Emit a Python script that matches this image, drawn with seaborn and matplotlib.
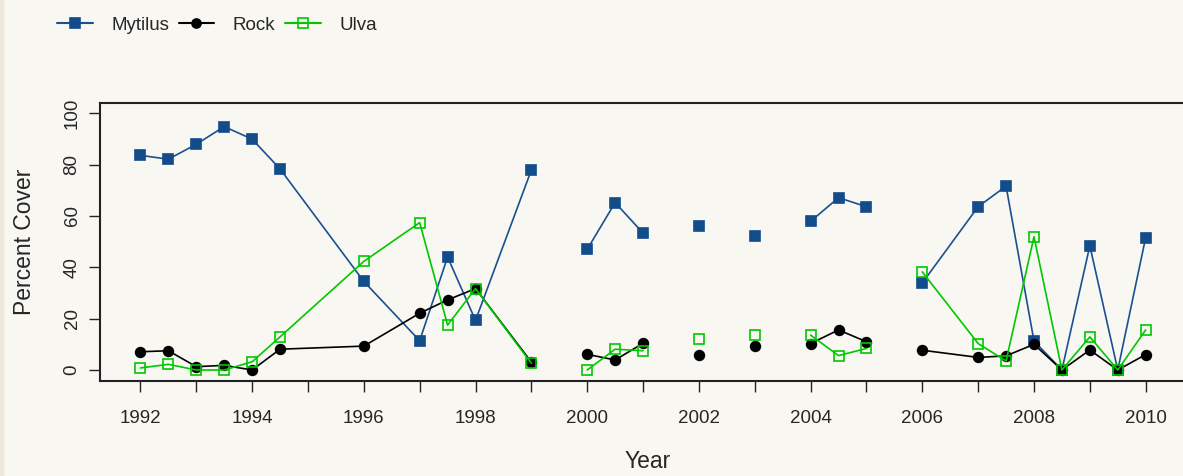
import numpy as np
import pandas as pd
import matplotlib
matplotlib.use("Agg")
import matplotlib.pyplot as plt
from matplotlib.lines import Line2D
import seaborn as sns

nan = np.nan
years = [1992, 1992.5, 1993, 1993.5, 1994, 1994.5, 1996, 1997, 1997.5, 1998, 1999, 1999.5,
         2000, 2000.5, 2001, 2001.5, 2002, 2002.5, 2003, 2003.5, 2004, 2004.5, 2005, 2005.5,
         2006, 2007, 2007.5, 2008, 2008.5, 2009, 2009.5, 2010]
mytilus = [83.6, 82.1, 87.9, 94.8, 89.9, 78.3, 34.5, 11.4, 44.0, 19.3, 77.9, nan,
           47.0, 65.2, 53.3, nan, 56.2, nan, 52.2, nan, 57.9, 67.1, 63.6, nan,
           33.9, 63.6, 71.6, 11.3, 0.0, 48.4, 0.0, 51.6]
rock = [7.1, 7.5, 1.3, 1.8, 0.0, 8.1, 9.3, 22.1, 27.3, 31.7, 3.1, nan,
        6.1, 3.9, 10.4, nan, 5.8, nan, 9.5, nan, 10.3, 15.6, 11.0, nan,
        7.7, 4.9, 5.5, 10.0, 0.0, 7.8, 0.0, 6.0]
ulva = [0.8, 2.2, 0.0, 0.0, 3.2, 12.9, 42.3, 57.4, 17.5, 31.7, 2.6, nan,
        0.0, 8.1, 7.5, nan, 11.9, nan, 13.6, nan, 13.6, 5.6, 8.4, nan,
        38.2, 10.3, 3.5, 51.9, 0.0, 12.9, 0.0, 15.6]
series_names = ["Mytilus", "Rock", "Ulva"]
xtick_labels = [str(y) if y % 2 == 0 else "" for y in range(1992, 2011)]

bg = "#F8F7F2"
colors = {"Mytilus": "#1B5090", "Rock": "#000000", "Ulva": "#00C800"}
markers = {"Mytilus": "s", "Rock": "o", "Ulva": "s"}
mfc = {"Mytilus": "#124C8A", "Rock": "#000000", "Ulva": "none"}

sns.set_style("white")
plt.rcParams["font.family"] = ["Liberation Sans", "DejaVu Sans"]

fig = plt.figure(figsize=(11.83, 4.76), dpi=100, facecolor=bg)
ax = fig.add_axes([100 / 1183, 95.3 / 476, 1 - 100 / 1183 + 0.01, 278 / 476])
ax.set_facecolor(bg)
fig.patches.append(plt.Rectangle((0, 0), 3 / 1183, 1, transform=fig.transFigure,
                                 color="#ECE7DA", zorder=0))

for name, vals in zip(series_names, [mytilus, rock, ulva]):
    v = np.array(vals, dtype=float)
    seg = np.cumsum(np.isnan(v))
    df = pd.DataFrame({"Year": years, "Cover": v, "seg": seg}).dropna()
    sns.lineplot(data=df, x="Year", y="Cover", units="seg", estimator=None,
                 color=colors[name], marker=markers[name], markersize=6.5 if name != "Rock" else 7,
                 markerfacecolor=mfc[name], markeredgecolor=colors[name] if name != "Mytilus" else "#124C8A",
                 markeredgewidth=1.2, linewidth=1.2, ax=ax, legend=False, sort=False)

ax.set_xlim(1991.276, 2010.68 + 0.2)
ax.set_ylim(-4.17, 104.1)
ax.set_xticks(list(range(1992, 2011)))
ax.set_xticklabels(xtick_labels, fontsize=13.5)
ax.set_yticks([0, 20, 40, 60, 80, 100])
ax.set_yticklabels(["0", "20", "40", "60", "80", "100"], fontsize=13.5, rotation=90, va="center")
ax.tick_params(axis="both", direction="out", length=8, width=1, color="#222222", pad=13,
               bottom=True, left=True)
ax.tick_params(axis="y", pad=6)
for s in ["left", "bottom", "top"]:
    ax.spines[s].set_visible(True)
    ax.spines[s].set_color("#222222")
    ax.spines[s].set_linewidth(1.5)
ax.spines["right"].set_visible(False)
ax.set_xlabel("Year", fontsize=16.5, labelpad=17)
ax.set_ylabel("Percent Cover", fontsize=16.5, labelpad=20)
ax.grid(False)

handles = [Line2D([0], [0], color=colors[n], marker=markers[n], markersize=6.5,
                  markerfacecolor=mfc[n], markeredgecolor=colors[n] if n != "Mytilus" else "#124C8A",
                  markeredgewidth=1.2, linewidth=1.5) for n in series_names]
fig.legend(handles, series_names, loc="upper left", bbox_to_anchor=(40 / 1183, 1.0),
           ncol=3, frameon=False, fontsize=13.5, handlelength=1.9, columnspacing=0.5,
           handletextpad=1.0)

fig.savefig("out.png", dpi=100, facecolor=bg)
